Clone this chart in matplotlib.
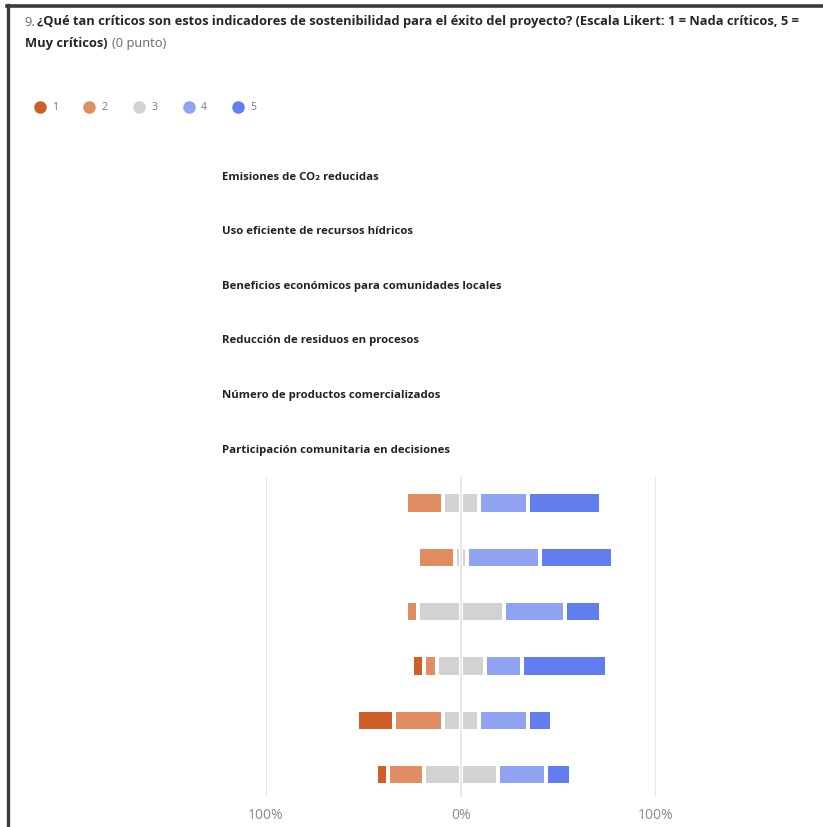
import numpy as np
import matplotlib
matplotlib.use("Agg")
import matplotlib.pyplot as plt
from matplotlib.lines import Line2D

# survey answers (16 respondents), Likert 1..5
categories = [
    "Emisiones de CO\u2082 reducidas",
    "Uso eficiente de recursos hídricos",
    "Beneficios económicos para comunidades locales",
    "Reducción de residuos en procesos",
    "Número de productos comercializados",
    "Participación comunitaria en decisiones",
]
counts_1 = [0, 0, 0, 1, 3, 1]
counts_2 = [3, 3, 1, 1, 4, 3]
counts_3 = [3, 1, 7, 4, 3, 6]
counts_4 = [4, 6, 5, 3, 4, 4]
counts_5 = [6, 6, 3, 7, 2, 2]
n_resp = 16
levels = ["1", "2", "3", "4", "5"]
colors = ["#cf5f27", "#e08d61", "#d2d2d0", "#8fa3f2", "#617def"]
tick_labels = ["100%", "0%", "100%"]

W, H = 823, 827
fig = plt.figure(figsize=(W / 100, H / 100), dpi=100)
plt.rcParams["font.family"] = ["Open Sans", "DejaVu Sans"]


def fx(px):
    return px / W


def fy(py):
    return 1 - py / H


# frame of the form card
fig.add_artist(Line2D([fx(7), 1], [fy(6), fy(6)], color="#3c3c3c", lw=2.6))
fig.add_artist(Line2D([fx(8), fx(8)], [fy(5), 0], color="#3c3c3c", lw=2.4))

title_font = dict(fontsize=9.25, color="#262626", va="center")
fig.text(fx(24), fy(22), "9.", fontweight="normal", **dict(title_font, color="#666666"))
fig.text(fx(37), fy(22),
         "¿Qué tan críticos son estos indicadores de sostenibilidad para el éxito del proyecto? "
         "(Escala Likert: 1 = Nada críticos, 5 =", fontweight="bold", **title_font)
line2 = fig.text(fx(25), fy(43), "Muy críticos)", fontweight="bold", **title_font)
fig.canvas.draw()
bb = line2.get_window_extent()
fig.text(bb.x1 / W + fx(4), fy(43), "(0 punto)", fontweight="normal", **dict(title_font, color="#666666"))

# legend
leg_x = [40, 89, 139, 189, 238]
for lx, lab, col in zip(leg_x, levels, colors):
    fig.add_artist(Line2D([fx(lx)], [fy(107)], marker="o", ms=8, color=col, lw=0))
    fig.text(fx(lx + 12), fy(108), lab, fontsize=7.5, color="#777777", va="center")

# category labels
label_y = [178, 232, 287, 341, 395, 450]
for txt, ly in zip(categories, label_y):
    fig.text(fx(222), fy(ly), txt, fontsize=8.2, fontweight="bold", color="#222222", va="center",
             family=["Open Sans", "DejaVu Sans"])

ax = fig.add_axes([fx(266), fy(797), fx(656) - fx(266), fy(477) - fy(797)])
counts = np.array([counts_1, counts_2, counts_3, counts_4, counts_5], dtype=float)
pct = counts / n_resp * 100
y = np.arange(len(categories))
gap = 2.0
bar_h = 0.32

for i in range(len(categories)):
    p1, p2, p3, p4, p5 = pct[:, i]
    start = -(p1 + p2 + p3 / 2)
    segs = [(start, p1, 0), (start + p1, p2, 1), (-p3 / 2, p3 / 2, 2), (0, p3 / 2, 2),
            (p3 / 2, p4, 3), (p3 / 2 + p4, p5, 4)]
    for left, w, k in segs:
        if w - gap <= 0.2:
            continue
        ax.barh(y[i], w - gap, left=left + gap / 2, height=bar_h, color=colors[k], lw=0)

ax.set_xlim(-100, 100)
ax.set_ylim(5.41, -0.48)
ax.set_xticks([-100, 0, 100])
ax.set_xticklabels(tick_labels, color="#8a8a8a", fontsize=10)
ax.set_yticks([])
ax.tick_params(axis="x", length=0, pad=8)
ax.grid(axis="x", color="#e6e6e6", lw=1.3)
ax.set_axisbelow(True)
for s in ax.spines.values():
    s.set_visible(False)

fig.savefig("out.png", dpi=100)
